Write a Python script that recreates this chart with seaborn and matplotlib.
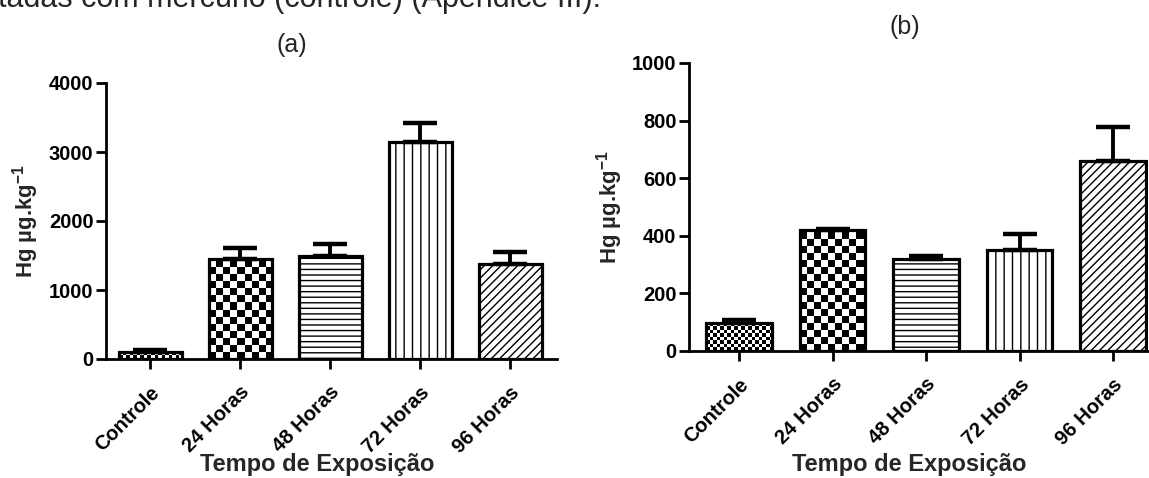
import numpy as np
import matplotlib
matplotlib.use("Agg")
import matplotlib.pyplot as plt
import matplotlib.transforms as mtransforms
import seaborn as sns

# ---- data ----
categories = ["Controle", "24 Horas", "48 Horas", "72 Horas", "96 Horas"]
mean_a = [95, 1450, 1500, 3140, 1370]
err_a = [30, 160, 160, 280, 180]
mean_b = [97, 420, 320, 350, 660]
err_b = [12, 5, 10, 55, 118]
yticks_a = [0, 1000, 2000, 3000, 4000]
yticks_b = [0, 200, 400, 600, 800, 1000]
header_text = "tadas com mercúrio (controle) (Apêndice III)."
xlabel_text = "Tempo de Exposição"
ylabel_text = r"Hg µg.kg$^{\mathbf{-1}}$"

sns.set_style("ticks")
plt.rcParams["font.family"] = ["Liberation Sans", "DejaVu Sans"]
plt.rcParams["mathtext.fontset"] = "custom"
plt.rcParams["mathtext.rm"] = "Liberation Sans"
plt.rcParams["mathtext.bf"] = "Liberation Sans:bold"
plt.rcParams["hatch.linewidth"] = 1.0

W, H = 1149, 478
fig = plt.figure(figsize=(W / 100, H / 100), dpi=100)

# pattern per category: ('checker', cell_px) or hatch string
patterns = [("checker", 3.5), ("checker", 7.0), "---", "||", "////"]


def add_checker(ax, patch, cell_px):
    x0, y0 = patch.get_x(), patch.get_y()
    w, h = patch.get_width(), patch.get_height()
    p0 = ax.transData.transform((x0, y0))
    p1 = ax.transData.transform((x0 + w, y0 + h))
    px_w, px_h = abs(p1[0] - p0[0]), abs(p1[1] - p0[1])
    nx = max(1, int(np.ceil(px_w / cell_px)))
    ny = max(1, int(np.ceil(px_h / cell_px)))
    dx = w / px_w * cell_px
    dy = h / px_h * cell_px if px_h > 0 else h
    img = (np.indices((ny, nx)).sum(0) % 2).astype(float)
    im = ax.imshow(img, cmap="gray", vmin=0, vmax=1, origin="lower",
                   extent=(x0, x0 + nx * dx, y0, y0 + ny * dy),
                   interpolation="nearest", aspect="auto", zorder=1.5)
    im.set_clip_path(patch)


def panel(rect, means, errs, yticks, xlim, title, title_xy, ylab_x, xlab_xy):
    ax = fig.add_axes(rect)
    sns.barplot(x=categories, y=means, ax=ax, color="white", edgecolor="black",
                linewidth=2.3, width=0.7, errorbar=None, saturation=1)
    ax.set_xlim(*xlim)
    ax.set_ylim(yticks[0], yticks[-1])
    for patch, pat in zip(ax.patches, patterns):
        patch.set_zorder(2)
        if isinstance(pat, tuple):
            patch.set_facecolor("none")
            add_checker(ax, patch, pat[1])
        else:
            patch.set_hatch(pat)
    pos = np.arange(len(categories))
    ax.errorbar(pos, means, yerr=[np.zeros(len(errs)), errs], fmt="none",
                ecolor="black", elinewidth=2.8, capsize=12, capthick=3.2, zorder=3)
    ax.set_xlim(*xlim)
    ax.set_ylim(yticks[0], yticks[-1])
    ax.set_yticks(yticks)
    ax.set_yticklabels([str(t) for t in yticks], fontsize=14.5, fontweight="bold")
    ax.set_xticks(pos)
    ax.set_xticklabels(categories, fontsize=14.5, fontweight="bold", rotation=45,
                       ha="right", va="top", rotation_mode="anchor")
    off = mtransforms.ScaledTranslation(5 / 100, 0, fig.dpi_scale_trans)
    for lab in ax.get_xticklabels():
        lab.set_transform(lab.get_transform() + off)
    ax.tick_params(axis="both", direction="out", length=7, width=2, colors="black")
    ax.tick_params(axis="x", pad=10)
    ax.tick_params(axis="y", pad=2)
    for s in ["top", "right"]:
        ax.spines[s].set_visible(False)
    for s in ["left", "bottom"]:
        ax.spines[s].set_linewidth(2)
        ax.spines[s].set_color("black")
    ax.set_ylabel(ylabel_text, fontsize=16, fontweight="bold", va="center")
    ax.yaxis.set_label_coords(ylab_x, 0.5)
    ax.set_xlabel(xlabel_text, fontsize=17, fontweight="bold", va="center")
    ax.xaxis.set_label_coords(*xlab_xy)
    fig.text(title_xy[0] / W, 1 - title_xy[1] / H, title, fontsize=18,
             ha="center", va="center")
    return ax


# panel (a)
ax_a = panel([106 / W, 1 - 359 / H, 451 / W, 276 / H], mean_a, err_a, yticks_a,
             (-0.49, 4.52), "(a)", (292, 45), (26 - 106) / 451,
             ((317 - 106) / 451, (359 - 464) / 276))
# panel (b)
ax_b = panel([689 / W, 1 - 351 / H, 459 / W, 288 / H], mean_b, err_b, yticks_b,
             (-0.535, 4.374), "(b)", (905, 27), (610 - 689) / 459,
             ((909 - 689) / 459, (351 - 465) / 288))

fig.text(-2 / W, 1 - 7 / H, header_text, fontsize=22, ha="left", va="baseline")

fig.savefig("out.png", dpi=100)
